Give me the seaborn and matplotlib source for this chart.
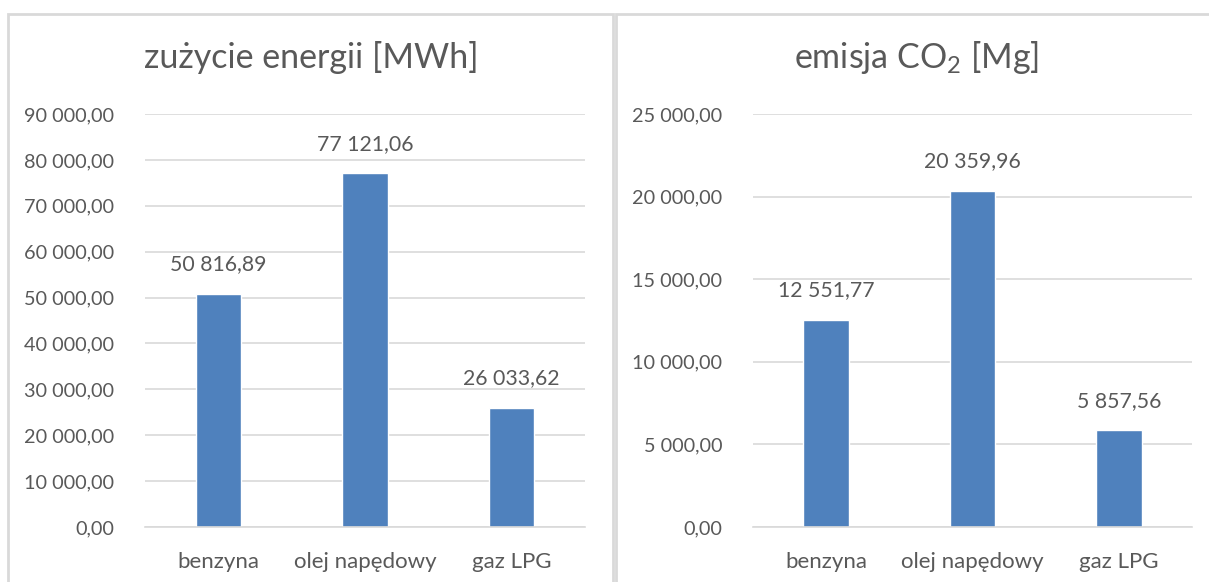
import matplotlib.pyplot as plt
import matplotlib.patches as mpatches
import pandas as pd
import seaborn as sns
from matplotlib.ticker import FuncFormatter

# --- data
categories = ["benzyna", "olej napędowy", "gaz LPG"]
energy_mwh = [50816.89, 77121.06, 26033.62]
co2_mg = [12551.77, 20359.96, 5857.56]
energy_ticks = [0, 10000, 20000, 30000, 40000, 50000, 60000, 70000, 80000, 90000]
co2_ticks = [0, 5000, 10000, 15000, 20000, 25000]

sns.set_theme(style="white")
plt.rcParams["font.family"] = ["Lato", "DejaVu Sans"]
plt.rcParams["mathtext.fontset"] = "custom"
plt.rcParams["mathtext.rm"] = "Lato"
plt.rcParams["mathtext.default"] = "regular"

TEXT = "#595959"
GRID = "#d9d9d9"
BAR = "#4f81bd"


def pl_fmt(v, _=None):
    s = f"{v:,.2f}"
    return s.replace(",", " ").replace(".", ",")


W, H = 1209, 582
fig = plt.figure(figsize=(W / 100, H / 100), dpi=100)

# chart frames
for x0, x1 in [(8, 613), (616, 1215)]:
    fig.patches.append(mpatches.Rectangle((x0 / W, -0.05), (x1 - x0) / W, (H - 14) / H + 0.05,
                                          transform=fig.transFigure, fill=False,
                                          edgecolor=GRID, linewidth=2))

panels = [
    (145, 440, 311, energy_mwh, energy_ticks, "zużycie energii [MWh]"),
    (753, 439, 917, co2_mg, co2_ticks, "emisja CO$_2$ [Mg]"),
]

for left, width, title_x, values, ticks, title in panels:
    ax = fig.add_axes([left / W, 55 / H, width / W, 413 / H])
    df = pd.DataFrame({"kategoria": categories, "wartosc": values})
    sns.barplot(data=df, x="kategoria", y="wartosc", color=BAR, width=0.31,
                saturation=1, ax=ax)
    ax.set_ylim(ticks[0], ticks[-1])
    ax.set_yticks(ticks)
    ax.yaxis.set_major_formatter(FuncFormatter(pl_fmt))
    ax.grid(axis="y", color=GRID, linewidth=1.2)
    ax.set_axisbelow(True)
    for side in ["top", "right", "left"]:
        ax.spines[side].set_visible(False)
    ax.spines["bottom"].set_color(GRID)
    ax.spines["bottom"].set_linewidth(1.2)
    ax.tick_params(axis="both", length=0, labelcolor=TEXT)
    ax.tick_params(axis="y", labelsize=14.3, pad=22)
    ax.tick_params(axis="x", labelsize=16, pad=18)
    ax.set_xlabel("")
    ax.set_ylabel("")
    ax.bar_label(ax.containers[0], labels=[pl_fmt(v) for v in values],
                 padding=14, fontsize=15.3, color=TEXT)
    fig.text(title_x / W, (H - 68) / H, title, fontsize=24.5, color=TEXT,
             ha="center", va="baseline")

fig.savefig("out.png", dpi=100, facecolor="white")
